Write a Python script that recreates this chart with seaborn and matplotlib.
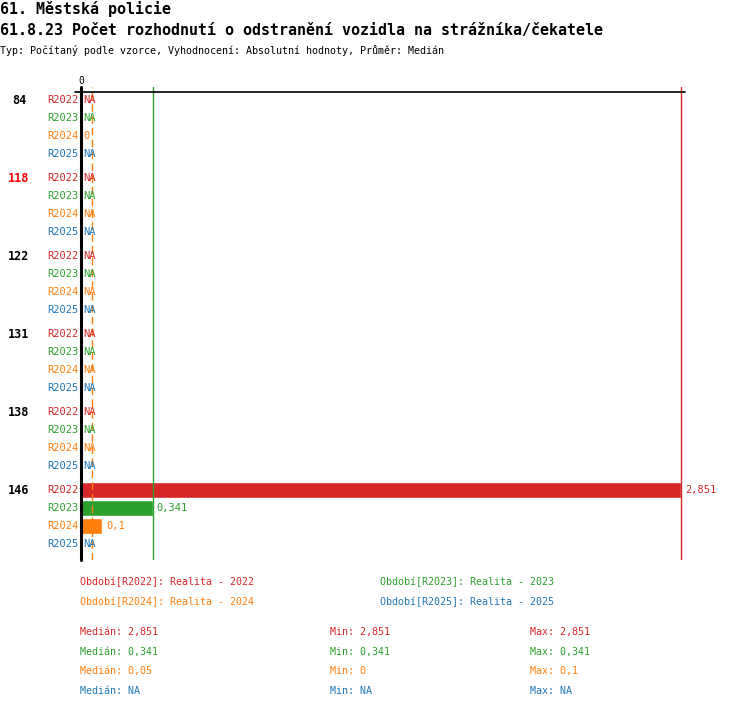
import numpy as np
import pandas as pd
import matplotlib
matplotlib.use("Agg")
import matplotlib.pyplot as plt
import seaborn as sns

# ---- data ----
groups = ["84", "118", "122", "131", "138", "146"]
highlight = "118"
periods = ["R2022", "R2023", "R2024", "R2025"]
period_names = ["Realita - 2022", "Realita - 2023", "Realita - 2024", "Realita - 2025"]
nan = np.nan
vals_2022 = [nan, nan, nan, nan, nan, 2.851]
vals_2023 = [nan, nan, nan, nan, nan, 0.341]
vals_2024 = [0.0, nan, nan, nan, nan, 0.1]
vals_2025 = [nan, nan, nan, nan, nan, nan]
medians = [2.851, 0.341, 0.05, nan]
mins = [2.851, 0.341, 0.0, nan]
maxs = [2.851, 0.341, 0.1, nan]
colors = ["#d62728", "#2ca02c", "#ff7f0e", "#1f77b4"]
title1 = "61. Městská policie"
title2 = "61.8.23 Počet rozhodnutí o odstranění vozidla na strážníka/čekatele"
subtitle = "Typ: Počítaný podle vzorce, Vyhodnocení: Absolutní hodnoty, Průměr: Medián"

series = [vals_2022, vals_2023, vals_2024, vals_2025]

def fmt(v):
    if v is None or (isinstance(v, float) and np.isnan(v)):
        return "NA"
    s = f"{v:.3f}".rstrip("0").rstrip(".")
    return s.replace(".", ",")

sns.set_style("white")
plt.rcParams["font.family"] = ["DejaVu Sans Mono", "DejaVu Sans"]
plt.rcParams["text.color"] = "black"

W, H = 750, 710
fig = plt.figure(figsize=(W / 100, H / 100), dpi=100)

# layout in pixels
x0_px, xmax_px = 81, 681
top_px, bot_px = 87, 560
ax_left_px, ax_right_px = 75, 685
scale = (xmax_px - x0_px) / max(vals_2022[5], 1e-9)  # px per unit

ax = fig.add_axes([ax_left_px / W, 1 - bot_px / H,
                   (ax_right_px - ax_left_px) / W, (bot_px - top_px) / H])

def row_y(i, j):
    return 100 + 78 * i + 18 * j

rows = []
for j, p in enumerate(periods):
    for i, g in enumerate(groups):
        rows.append({"group": g, "period": p, "value": series[j][i], "ypos": row_y(i, j)})
df = pd.DataFrame(rows)

sns.barplot(data=df, x="value", y="ypos", hue="period", hue_order=periods,
            palette=colors, orient="h", native_scale=True, dodge=False,
            width=16 / 18, legend=False, errorbar=None, saturation=1, ax=ax)

ax.set_xlim(-(x0_px - ax_left_px) / scale, (ax_right_px - x0_px) / scale)
ax.set_ylim(bot_px, top_px)
ax.set_axis_off()

# median lines
for j, m in enumerate(medians):
    if np.isnan(m):
        continue
    ls = (0, (5.5, 3)) if j == 2 else "-"
    ax.axvline(m, color=colors[j], lw=1.0, ls=ls, zorder=3)

# top line and zero axis
ax.plot([ax.get_xlim()[0], ax.get_xlim()[1]], [92, 92], color="black", lw=1.2, zorder=4, clip_on=False)
ax.plot([0, 0], [top_px, bot_px], color="black", lw=2.2, zorder=5, clip_on=False)
ax.text(0, 81, "0", ha="center", va="center", fontsize=7, color="black")

# value labels and row labels
for j, p in enumerate(periods):
    for i, g in enumerate(groups):
        v = series[j][i]
        y = row_y(i, j)
        xv = 0 if np.isnan(v) else v
        off = 2.5 if (np.isnan(v) or v == 0) else 4
        ax.text(xv + off / scale, y, fmt(v), ha="left", va="center",
                fontsize=7.5, color=colors[j], zorder=6)
        fig.text(79 / W, 1 - y / H, p, ha="right", va="center",
                 fontsize=7.5, color=colors[j])

for i, g in enumerate(groups):
    y = row_y(i, 0)
    fig.text(19 / W, 1 - y / H, g, ha="center", va="center", fontsize=8.5,
             fontweight="bold", color="red" if g == highlight else "black")

# titles
fig.text(0 / W, 1 - 9 / H, title1, ha="left", va="center", fontsize=10.8, fontweight="bold")
fig.text(0 / W, 1 - 30 / H, title2, ha="left", va="center", fontsize=10.8, fontweight="bold")
fig.text(0 / W, 1 - 50 / H, subtitle, ha="left", va="center", fontsize=7.2)

# legend
leg_pos = [(80, 582), (380, 582), (80, 602), (380, 602)]
for j, p in enumerate(periods):
    x, y = leg_pos[j]
    fig.text(x / W, 1 - y / H, f"Období[{p}]: {period_names[j]}", ha="left", va="center",
             fontsize=7.2, color=colors[j])

# stats
for j in range(len(periods)):
    y = 632 + 19.7 * j
    fig.text(80 / W, 1 - y / H, f"Medián: {fmt(medians[j])}", ha="left", va="center",
             fontsize=7.2, color=colors[j])
    fig.text(330 / W, 1 - y / H, f"Min: {fmt(mins[j])}", ha="left", va="center",
             fontsize=7.2, color=colors[j])
    fig.text(530 / W, 1 - y / H, f"Max: {fmt(maxs[j])}", ha="left", va="center",
             fontsize=7.2, color=colors[j])

fig.savefig("out.png", dpi=100)
